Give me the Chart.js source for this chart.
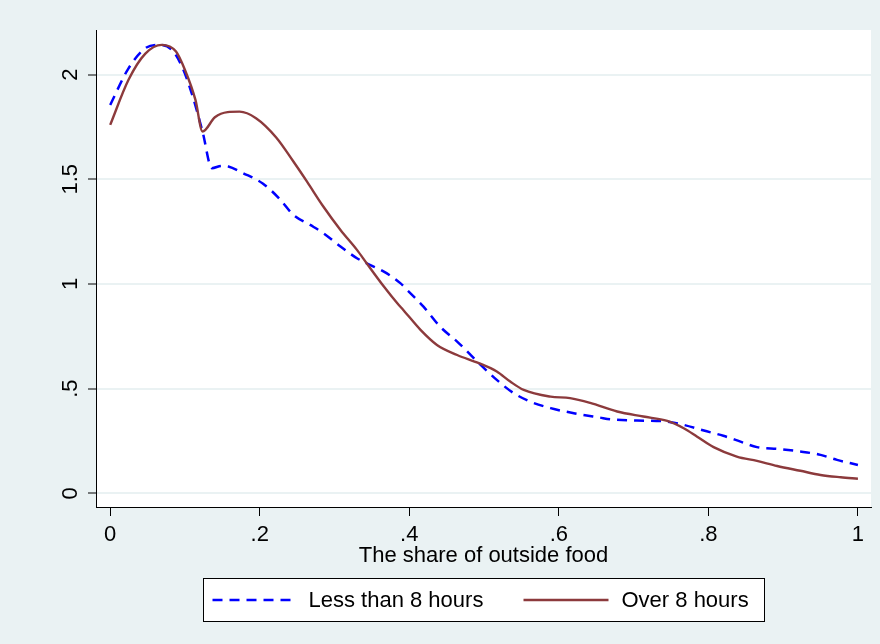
<!DOCTYPE html>
<html><head><meta charset="utf-8">
<script src="https://cdn.jsdelivr.net/npm/chart.js@4.4.1/dist/chart.umd.min.js"></script>
<style>html,body{margin:0;padding:0;background:#EAF2F3;}canvas{display:block;}</style>
</head><body>
<canvas id="c" width="880" height="644"></canvas>
<script>
// ---- data ----
const seriesNames = ['Less than 8 hours', 'Over 8 hours'];

const lessX = [0, 0.0245, 0.047, 0.0646, 0.0825, 0.096, 0.109, 0.1235, 0.136, 0.149, 0.158, 0.178, 0.204, 0.227, 0.245, 0.2675, 0.285, 0.308, 0.330, 0.343, 0.366, 0.388, 0.397, 0.419, 0.441, 0.464, 0.493, 0.517, 0.5395, 0.562, 0.589, 0.620, 0.655, 0.669, 0.7045, 0.745, 0.767, 0.794, 0.820, 0.843, 0.865, 0.894, 0.923, 0.950, 0.972, 1.0];
const lessY = [1.855, 2.03, 2.126, 2.142, 2.118, 2.038, 1.911, 1.728, 1.553, 1.564, 1.561, 1.529, 1.48, 1.405, 1.33, 1.282, 1.243, 1.179, 1.123, 1.099, 1.059, 1.004, 0.972, 0.892, 0.797, 0.725, 0.622, 0.542, 0.479, 0.438, 0.407, 0.383, 0.362, 0.354, 0.348, 0.343, 0.327, 0.300, 0.275, 0.247, 0.221, 0.212, 0.200, 0.184, 0.160, 0.136];

const overX = [0, 0.0245, 0.047, 0.069, 0.088, 0.100, 0.114, 0.1235, 0.140, 0.157, 0.173, 0.195, 0.222, 0.245, 0.263, 0.285, 0.308, 0.330, 0.343, 0.366, 0.384, 0.392, 0.415, 0.437, 0.464, 0.493, 0.517, 0.535, 0.553, 0.589, 0.615, 0.642, 0.678, 0.713, 0.745, 0.767, 0.785, 0.807, 0.838, 0.865, 0.892, 0.923, 0.950, 0.977, 1.0];
const overY = [1.76, 1.975, 2.10, 2.142, 2.11, 2.022, 1.879, 1.728, 1.796, 1.821, 1.823, 1.792, 1.70, 1.585, 1.49, 1.37, 1.258, 1.163, 1.099, 0.988, 0.908, 0.876, 0.781, 0.709, 0.661, 0.622, 0.582, 0.534, 0.494, 0.462, 0.455, 0.432, 0.391, 0.367, 0.346, 0.311, 0.271, 0.221, 0.176, 0.155, 0.131, 0.108, 0.088, 0.077, 0.07];

const xTickValues = [0, 0.2, 0.4, 0.6, 0.8, 1];
const xTickLabels = ['0', '.2', '.4', '.6', '.8', '1'];
const yTickValues = [0, 0.5, 1, 1.5, 2];
const yTickLabels = ['0', '.5', '1', '1.5', '2'];
const xTitle = 'The share of outside food';

// ---- styling ----
const FONT = '"Liberation Sans", Arial, Helvetica, sans-serif';
const BG = '#EAF2F3';
const BLUE = '#0000FF';
const MAROON = '#8C3A3C';

function toPoints(xs, ys) { return xs.map((x, i) => ({x: x, y: ys[i]})); }

const bgPlugin = {
  id: 'bg',
  beforeDraw(chart) {
    const {ctx, chartArea: a} = chart;
    ctx.save();
    ctx.fillStyle = BG;
    ctx.fillRect(0, 0, chart.width, chart.height);
    ctx.fillStyle = '#FFFFFF';
    ctx.fillRect(a.left, a.top, a.right - a.left, a.bottom - a.top);
    ctx.restore();
  }
};

const legendPlugin = {
  id: 'boxLegend',
  afterDraw(chart) {
    const {ctx, chartArea: a} = chart;
    const boxW = 561, boxH = 43;
    const cx = (a.left + a.right) / 2;
    const bx = Math.round(cx - boxW / 2) + 0.5, by = 578.5;
    ctx.save();
    ctx.fillStyle = '#FFFFFF';
    ctx.fillRect(bx, by, boxW, boxH);
    ctx.strokeStyle = '#000000';
    ctx.lineWidth = 1;
    ctx.setLineDash([]);
    ctx.strokeRect(bx, by, boxW, boxH);
    const midY = by + boxH / 2;
    const items = [
      {ds: chart.data.datasets[0], x0: bx + 9, x1: bx + 92, tx: bx + 105},
      {ds: chart.data.datasets[1], x0: bx + 320, x1: bx + 405, tx: bx + 418}
    ];
    ctx.font = '22px ' + FONT;
    ctx.textBaseline = 'middle';
    ctx.textAlign = 'left';
    items.forEach(it => {
      ctx.beginPath();
      ctx.strokeStyle = it.ds.borderColor;
      ctx.lineWidth = it.ds.borderWidth;
      ctx.setLineDash(it.ds.borderDash || []);
      ctx.moveTo(it.x0, midY);
      ctx.lineTo(it.x1, midY);
      ctx.stroke();
      ctx.setLineDash([]);
      ctx.fillStyle = '#000000';
      ctx.fillText(it.ds.label, it.tx, midY + 1);
    });
    ctx.restore();
  }
};

new Chart(document.getElementById('c'), {
  type: 'line',
  data: {
    datasets: [
      {
        label: seriesNames[0],
        data: toPoints(lessX, lessY),
        borderColor: BLUE,
        borderWidth: 2.5,
        borderDash: [10, 7],
        pointRadius: 0,
        fill: false,
        cubicInterpolationMode: 'monotone',
        order: 1
      },
      {
        label: seriesNames[1],
        data: toPoints(overX, overY),
        borderColor: MAROON,
        borderWidth: 2.4,
        pointRadius: 0,
        fill: false,
        cubicInterpolationMode: 'monotone',
        order: 0
      }
    ]
  },
  options: {
    responsive: false,
    animation: false,
    layout: {padding: {left: 0, right: 9, top: 30, bottom: 0}},
    plugins: {legend: {display: false}, tooltip: {enabled: false}},
    scales: {
      x: {
        type: 'linear',
        min: -0.019, max: 1.0175,
        afterBuildTicks(scale) { scale.ticks = xTickValues.map(v => ({value: v})); },
        afterFit(scale) { scale.height = 137; },
        ticks: {
          callback(v) { const i = xTickValues.indexOf(v); return i >= 0 ? xTickLabels[i] : ''; },
          font: {family: FONT, size: 22},
          color: '#000000',
          padding: 6,
          maxRotation: 0, minRotation: 0
        },
        grid: {drawOnChartArea: false, drawTicks: true, tickLength: 9, tickColor: '#000000', tickWidth: 1},
        border: {display: true, color: '#000000', width: 1},
        title: {
          display: true, text: xTitle, color: '#000000',
          font: {family: FONT, size: 22},
          padding: {top: 0, bottom: 75}
        }
      },
      y: {
        type: 'linear',
        min: -0.065, max: 2.213,
        afterBuildTicks(scale) { scale.ticks = yTickValues.map(v => ({value: v})); },
        afterFit(scale) { scale.width = 96; },
        ticks: {
          callback(v) { const i = yTickValues.indexOf(v); return i >= 0 ? yTickLabels[i] : ''; },
          font: {family: FONT, size: 22},
          color: '#000000',
          padding: 2,
          crossAlign: 'center',
          minRotation: 90, maxRotation: 90
        },
        grid: {color: BG, lineWidth: 2, drawTicks: true, tickLength: 8, tickColor: '#000000', tickWidth: 1},
        border: {display: true, color: '#000000', width: 1}
      }
    }
  },
  plugins: [bgPlugin, legendPlugin]
});
</script>
</body></html>
